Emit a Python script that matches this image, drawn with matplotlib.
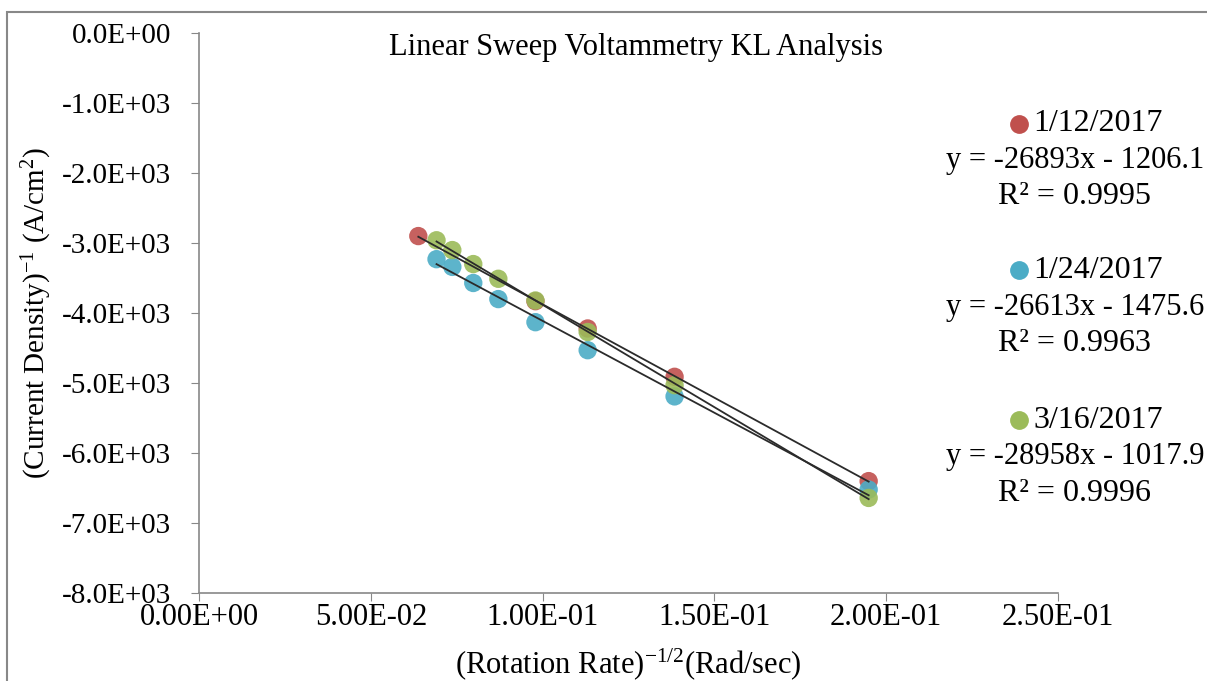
import numpy as np
import matplotlib
matplotlib.use("Agg")
from matplotlib import pyplot as plt
from matplotlib.lines import Line2D
from matplotlib.patches import Rectangle

plt.rcParams['font.family'] = ['Liberation Serif', 'DejaVu Serif']
plt.rcParams['mathtext.fontset'] = 'custom'
plt.rcParams['mathtext.rm'] = 'Liberation Serif'
plt.rcParams['mathtext.it'] = 'Liberation Serif:italic'

# data: x = (rotation rate)^-1/2, y = 1/current density
x_red = [0.0638, 0.0979, 0.1131, 0.1384, 0.1949]
y_red = [-2900, -3830, -4220, -4910, -6400]
x_blue = [0.0691, 0.0737, 0.0798, 0.0871, 0.0979, 0.1131, 0.1384, 0.1949]
y_blue = [-3230, -3340, -3570, -3800, -4130, -4530, -5190, -6520]
x_green = [0.0691, 0.0737, 0.0798, 0.0871, 0.0979, 0.1131, 0.1384, 0.1949]
y_green = [-2960, -3100, -3300, -3510, -3820, -4270, -5030, -6640]

labels = ["1/12/2017", "1/24/2017", "3/16/2017"]
eqs = ["y = -26893x - 1206.1", "y = -26613x - 1475.6", "y = -28958x - 1017.9"]
r2s = ["R² = 0.9995", "R² = 0.9963", "R² = 0.9996"]
colors = ["#C0504D", "#4BACC6", "#9BBB59"]

xticks = [0.0, 0.05, 0.10, 0.15, 0.20, 0.25]
yticks = [0, -1000, -2000, -3000, -4000, -5000, -6000, -7000, -8000]

fig = plt.figure(figsize=(12.07, 6.81), dpi=100)
ax = fig.add_axes([0.165, 0.129, 0.7115, 0.8225])

series = [(x_red, y_red), (x_blue, y_blue), (x_green, y_green)]
for (xs, ys), c in zip(series, colors):
    ax.scatter(xs, ys, s=175, color=c, alpha=0.9, edgecolors='none', zorder=2)
for xs, ys in series:
    k, b = np.polyfit(xs, ys, 1)
    xl = np.array([min(xs), max(xs)])
    ax.plot(xl, k * xl + b, color='#2b2b2b', lw=1.3, zorder=3)

ax.set_xlim(0, 0.25)
ax.set_ylim(-8000, 0)
ax.set_xticks(xticks)
ax.set_xticklabels([f"{v:.2E}" for v in xticks], size=22)
ax.set_yticks(yticks)
ax.set_yticklabels([f"{v:.1E}" for v in yticks], size=21)
ax.tick_params(axis='y', direction='out', length=6, color='#888888', pad=14)
ax.tick_params(axis='x', direction='out', length=6, color='#888888', pad=1)
for s in ['top', 'right']:
    ax.spines[s].set_visible(False)
for s in ['left', 'bottom']:
    ax.spines[s].set_color('#888888')
    ax.spines[s].set_linewidth(1.2)

ax.set_xlabel(r"(Rotation Rate)$^{-1/2}$(Rad/sec)", size=22, labelpad=10)
ax.set_ylabel(r"(Current Density)$^{-1}$ (A/cm$^{2}$)", size=21, labelpad=6)
fig.text(0.527, 0.93, "Linear Sweep Voltammetry KL Analysis", size=22, ha='center', va='center')

# legend with trendline labels on the right
ly = [0.818, 0.603, 0.383]
for y0, c, lab, eq, r2 in zip(ly, colors, labels, eqs, r2s):
    fig.add_artist(Line2D([0.8445], [y0], marker='o', ms=12.5, color=c, lw=0,
                          transform=fig.transFigure))
    fig.text(0.856, y0, lab, size=23, ha='left', va='center')
    fig.text(0.8906, y0 - 0.054, eq, size=22, ha='center', va='center')
    fig.text(0.8906, y0 - 0.107, r2, size=23, ha='center', va='center')

fig.add_artist(Rectangle((0.006, -0.1), 1.2, 1.082, transform=fig.transFigure,
                         fill=False, edgecolor='#888888', lw=1.5))

plt.savefig('out.png', dpi=100)
